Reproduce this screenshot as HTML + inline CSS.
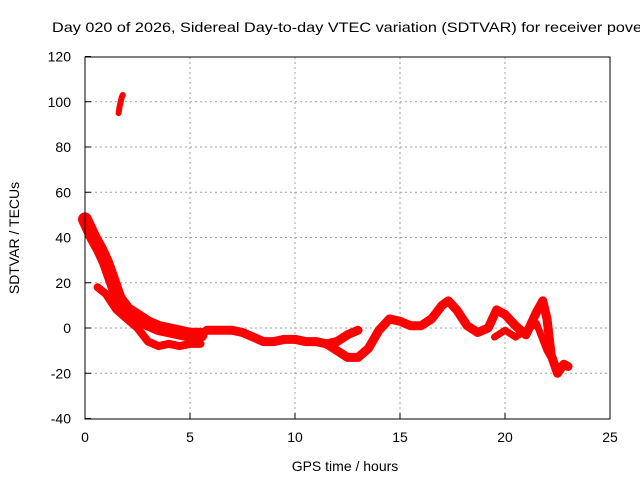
<!DOCTYPE html>
<html><head><meta charset="utf-8"><style>
body{margin:0;background:#fff;overflow:hidden}
svg{display:block;font-family:"Liberation Sans",sans-serif}
</style></head><body>
<svg id="c" width="640" height="480" xmlns="http://www.w3.org/2000/svg">
<text x="52" y="32" font-size="14" textLength="590" lengthAdjust="spacingAndGlyphs" fill="#000">Day 020 of 2026, Sidereal Day-to-day VTEC variation (SDTVAR) for receiver pove</text>
<text x="345" y="471" font-size="14" text-anchor="middle">GPS time / hours</text>
<text transform="translate(19,238) rotate(-90)" font-size="14" text-anchor="middle">SDTVAR / TECUs</text>
<g id="grid"></g><g id="marks"></g>
<rect x="85" y="57" width="525" height="362" fill="none" stroke="#000" stroke-width="1"/>
</svg>
<script>
const xTicks=[0,5,10,15,20,25];
const yTicks=[-40,-20,0,20,40,60,80,100,120];
const trackUpperH=[0,0.2,0.4,0.7,1.0,1.3,1.6,2.0,2.5,3.0,3.5,4.0,4.5,5.0,5.5];
const trackUpperV=[48,44,40,35,29,21,13,8,5,2,0,-1,-2,-3,-3];
const trackLowH=[0.6,1.0,1.5,2.0,2.5,3.0,3.5,4.0,4.5,5.0,5.5];
const trackLowV=[18,15,8,4,0,-6,-8,-7,-8,-7,-7];
const trackMidH=[5.8,6.5,7,7.5,8,8.5,9,9.5,10,10.5,11,11.5,12,12.5,13];
const trackMidV=[-1,-1,-1,-2,-4,-6,-6,-5,-5,-6,-6,-7,-6,-3,-1];
const trackLateH=[11.5,12,12.5,13,13.5,14,14.5,15,15.5,16,16.5,17,17.3,17.7,18.2,18.7,19.2,19.6,20,20.5,21,21.5,21.8,22,22.2,22.5,22.8,23];
const trackLateV=[-7,-10,-13,-13,-9,-1,4,3,1,1,4,10,12,8,1,-2,0,8,6,1,-3,7,12,4,-12,-20,-16,-17];
const trackSecH=[19.5,20,20.5,21,21.5,22,22.5];
const trackSecV=[-4,-1,-4,-1,2,-10,-18];
const outlierH=[1.6,1.65,1.7,1.75,1.8];
const outlierV=[95,98,100,102,103];
const X=h=>85+h*21, Y=v=>328-v*2.2625;
const NS="http://www.w3.org/2000/svg";
const g=document.getElementById('grid'), m=document.getElementById('marks');
xTicks.forEach(t=>{
 if(t>0&&t<25){const l=document.createElementNS(NS,'line');
 
 
 l.setAttribute('x1',X(t));l.setAttribute('x2',X(t));l.setAttribute('y1',57);l.setAttribute('y2',419);
 l.setAttribute('stroke','#a0a0a0');l.setAttribute('stroke-dasharray','2,3');g.appendChild(l);}
 const tk=document.createElementNS(NS,'line');
 
 
 tk.setAttribute('x1',X(t));tk.setAttribute('x2',X(t));tk.setAttribute('y1',419);tk.setAttribute('y2',413);tk.setAttribute('stroke','#000');g.appendChild(tk);
 const tx=document.createElementNS(NS,'text');
 
 
 tx.setAttribute('x',X(t));tx.setAttribute('y',442);tx.setAttribute('font-size','14');tx.setAttribute('text-anchor','middle');tx.textContent=t;g.appendChild(tx);
});
yTicks.forEach(t=>{
 if(t>-40&&t<120){const l=document.createElementNS(NS,'line');
 
 
 l.setAttribute('x1',85);l.setAttribute('x2',610);l.setAttribute('y1',Y(t));l.setAttribute('y2',Y(t));
 l.setAttribute('stroke','#a0a0a0');l.setAttribute('stroke-dasharray','2,3');g.appendChild(l);}
 const tk=document.createElementNS(NS,'line');
 
 
 tk.setAttribute('x1',85);tk.setAttribute('x2',91);tk.setAttribute('y1',Y(t));tk.setAttribute('y2',Y(t));tk.setAttribute('stroke','#000');g.appendChild(tk);
 const tx=document.createElementNS(NS,'text');
 
 
 tx.setAttribute('x',71);tx.setAttribute('y',Y(t)+5);tx.setAttribute('font-size','14');tx.setAttribute('text-anchor','end');tx.textContent=t;g.appendChild(tx);
});
function track(hs,vs,w,name){
 const p=document.createElementNS(NS,'polyline');
 
 
 p.setAttribute('points',hs.map((h,i)=>X(h)+','+Y(vs[i])).join(' '));
 p.setAttribute('fill','none');p.setAttribute('stroke','#ff0000');p.setAttribute('stroke-width',w);
 p.setAttribute('stroke-linejoin','round');p.setAttribute('stroke-linecap','round');m.appendChild(p);
}
track(trackUpperH,trackUpperV,14,'series-upper-track');
track(trackLowH,trackLowV,8,'series-low-track');
track(trackMidH,trackMidV,9,'series-mid-track');
track(trackLateH,trackLateV,9,'series-late-track');
track(trackSecH,trackSecV,7,'series-secondary-track');
track(outlierH,outlierV,6,'series-outlier');
</script>
</body></html>
